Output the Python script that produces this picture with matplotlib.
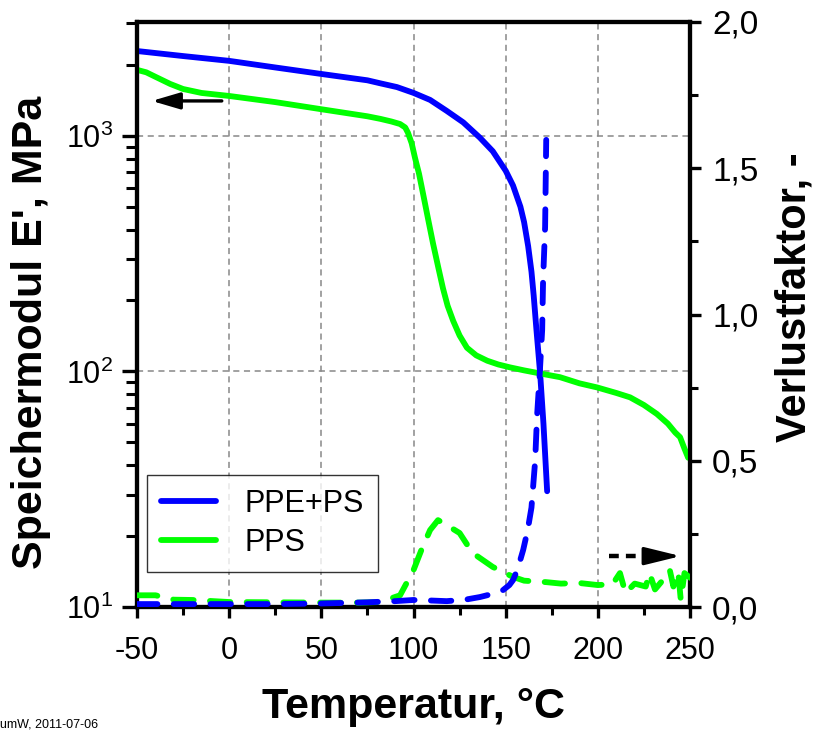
import matplotlib
matplotlib.use("Agg")
import matplotlib.pyplot as plt
from matplotlib.ticker import FixedLocator, LogLocator, NullFormatter, FuncFormatter

plt.rcParams['font.family'] = ['Liberation Sans', 'DejaVu Sans']

# Storage modulus E' (MPa) vs temperature (°C)
T_ppe = [-50, -25, 0, 25, 50, 75, 82, 91, 100, 109, 118, 127, 136, 143, 150, 154, 158, 160, 162.2, 164,
         165.2, 166.7, 168.7, 170.5, 172.5]
E_ppe = [2290, 2180, 2080, 1950, 1830, 1720, 1670, 1610, 1521, 1420, 1276, 1140, 982, 860, 711, 615, 500, 430,
         340, 265, 210, 150, 98, 60, 31]

T_pps = [-50, -45, -40, -32, -25, -15, 0, 25, 49, 75, 82, 88, 92.7, 95.5, 97, 99, 100.8, 103, 105.2, 108,
         110.6, 113.5, 116, 118.5, 121.5, 125, 129, 134, 140, 146, 152.4, 160, 168.7, 179.5, 190, 199.6, 210,
         217.5, 225, 232, 238, 242, 244.6, 247, 249]
E_pps = [1905, 1860, 1780, 1660, 1580, 1520, 1476, 1390, 1300, 1210, 1180, 1150, 1122, 1085, 1030, 930, 807,
         690, 567, 440, 349, 275, 225, 190, 164, 142, 126, 117, 111, 107, 104, 101, 98, 94.5, 89, 85.5, 81,
         77.6, 72, 66, 60, 55, 52.6, 47, 43]

# Loss factor tan delta
T_tan_ppe = [-50, -25, 0, 25, 50, 75, 90, 100, 110, 118, 128, 136, 143, 148.6, 152, 154, 156.5, 159.5, 162,
             164, 166, 167, 168.5, 169.8, 170.3, 171.4, 172]
tan_ppe = [0.01, 0.01, 0.01, 0.01, 0.012, 0.016, 0.02, 0.024, 0.022, 0.02, 0.025, 0.034, 0.045, 0.058, 0.075,
           0.092, 0.13, 0.195, 0.265, 0.34, 0.50, 0.65, 0.80, 0.947, 1.118, 1.30, 1.597]

T_tan_pps = [-50, -40, -30, -20, 0, 25, 50, 70, 82, 92.7, 100, 104.6, 109, 113.3, 118, 125, 132, 143, 154, 160,
             172, 180, 190, 200, 208, 212, 215, 220, 226, 228, 231, 235, 239, 241, 243.6, 245, 247, 250]
tan_pps = [0.04, 0.04, 0.025, 0.024, 0.017, 0.016, 0.015, 0.015, 0.017, 0.04, 0.126, 0.2, 0.263, 0.297, 0.28,
           0.253, 0.185, 0.137, 0.103, 0.09, 0.085, 0.08, 0.082, 0.075, 0.078, 0.116, 0.048, 0.08, 0.07,
           0.116, 0.06, 0.09, 0.127, 0.07, 0.12, 0.024, 0.116, 0.10]

x_ticks = [-50, 0, 50, 100, 150, 200, 250]
y2_ticks = [0.0, 0.5, 1.0, 1.5, 2.0]

blue = '#0000ff'
green = '#00ff00'

fig = plt.figure(figsize=(8.22, 7.33), dpi=100)
ax = fig.add_axes([137/822, 1-607/733, (690-137)/822, (607-22)/733])
ax2 = ax.twinx()

ax.set_yscale('log')
ax.set_xlim(-50, 250)
ax.set_ylim(10, 10**3.483)
ax2.set_ylim(0, 2.0)

lw = 4.2
dash = (0, (3.5, 2.8))
l1, = ax.plot(T_ppe, E_ppe, color=blue, lw=lw, solid_capstyle='round', solid_joinstyle='round',
              label='PPE+PS', zorder=3)
l2, = ax.plot(T_pps, E_pps, color=green, lw=lw, solid_capstyle='round', solid_joinstyle='round',
              label='PPS', zorder=3)
ax2.plot(T_tan_pps, tan_pps, color=green, lw=lw, ls=dash, dash_capstyle='round', zorder=3)
ax2.plot(T_tan_ppe, tan_ppe, color=blue, lw=lw, ls=dash, dash_capstyle='round', zorder=3)

# grid
for gx in [0, 50, 100, 150, 200]:
    ax.axvline(gx, color='#888888', lw=1.1, ls=(0, (4, 3)), zorder=1)
for gy in [100, 1000]:
    ax.axhline(gy, color='#888888', lw=1.1, ls=(0, (4, 3)), zorder=1)

# ticks
ax.xaxis.set_major_locator(FixedLocator(x_ticks))
ax.xaxis.set_minor_locator(FixedLocator([-25, 25, 75, 125, 175, 225]))
ax.set_xticklabels([str(v) for v in x_ticks])
ax.yaxis.set_major_locator(FixedLocator([10, 100, 1000]))
ax.yaxis.set_minor_locator(LogLocator(base=10, subs=range(2, 10)))
ax.yaxis.set_minor_formatter(NullFormatter())
ax.set_yticklabels([r'$\mathregular{10^1}$', r'$\mathregular{10^2}$', r'$\mathregular{10^3}$'])
ax2.yaxis.set_major_locator(FixedLocator(y2_ticks))
ax2.yaxis.set_minor_locator(FixedLocator([0.25, 0.75, 1.25, 1.75]))
ax2.yaxis.set_major_formatter(FuncFormatter(lambda v, p: f'{v:.1f}'.replace('.', ',')))

for a in (ax, ax2):
    a.tick_params(which='major', direction='out', length=8, width=2.4, labelsize=22, pad=6)
    a.tick_params(which='minor', direction='out', length=6, width=2.2)
    for s in a.spines.values():
        s.set_linewidth(3.0)
ax.tick_params(axis='y', right=False)
ax.tick_params(axis='y', which='major', length=11)
ax.tick_params(axis='y', which='minor', length=8)
ax.tick_params(axis='x', which='major', pad=13)
ax2.tick_params(axis='y', which='major', labelsize=24, pad=8)

ax.set_xlabel('Temperatur, °C', fontsize=31, fontweight='bold', labelpad=15)
ax.set_ylabel("Speichermodul E', MPa", fontsize=31, fontweight='bold')
ax2.set_ylabel('Verlustfaktor, -', fontsize=30, fontweight='bold')
ax.yaxis.set_label_coords(-0.155, 0.47)
ax2.yaxis.set_label_coords(1.153, 0.53)

leg = ax.legend(handles=[l1, l2], loc='upper left', bbox_to_anchor=((147-137)/553, 1-(475-22)/585),
                fontsize=22, frameon=True, fancybox=False, edgecolor='black', handlelength=1.8,
                borderpad=0.45, labelspacing=0.3, handletextpad=0.95, borderaxespad=0.0)
leg.get_frame().set_linewidth(1.0)
leg.set_zorder(5)

# arrows
ax.annotate('', xy=(-42, 1406), xytext=(-4, 1406),
            arrowprops=dict(arrowstyle='-|>,head_length=0.85,head_width=0.25', mutation_scale=20,
                            color='black', lw=2.4, shrinkA=0, shrinkB=0), zorder=6)
ax2.plot([206, 229], [0.174, 0.174], color='black', lw=3.2, ls=(0, (2.2, 1.6)), zorder=6)
ax2.annotate('', xy=(245, 0.174), xytext=(229, 0.174),
             arrowprops=dict(arrowstyle='-|>,head_length=1.1,head_width=0.27', mutation_scale=20,
                             color='black', lw=2.4, shrinkA=0, shrinkB=0), zorder=6)

fig.text(0.0, 0.003, 'umW, 2011-07-06', fontsize=9, ha='left', va='bottom')

fig.savefig('out.png', dpi=100)
